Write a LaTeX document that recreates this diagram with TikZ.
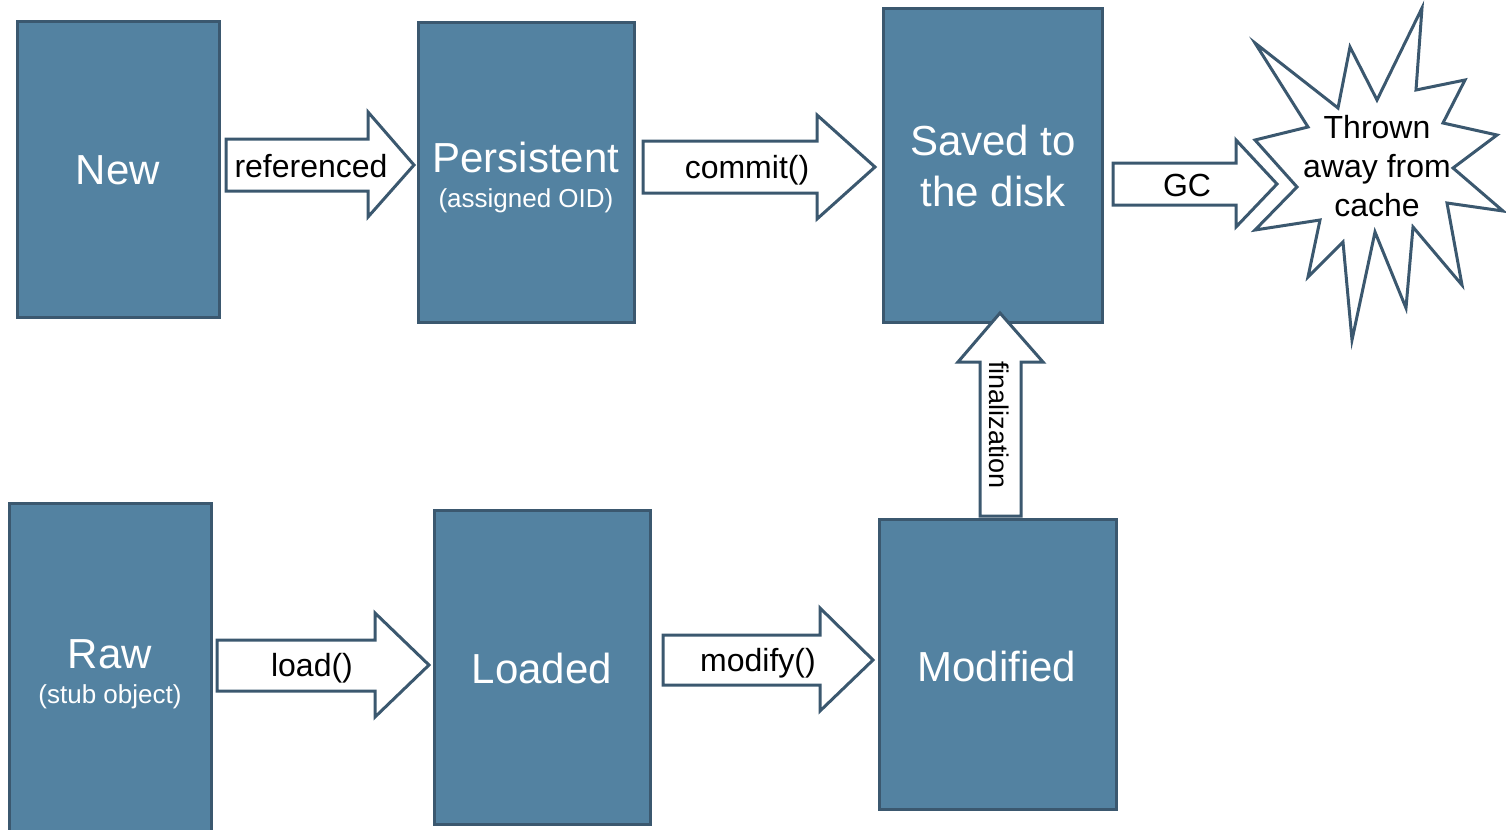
\documentclass[tikz,border=0pt]{standalone}
\usepackage{fontspec}
\setmainfont{Liberation Sans}
\definecolor{boxfill}{RGB}{83,130,161}
\definecolor{boxline}{RGB}{59,88,111}
\begin{document}
\begin{tikzpicture}[x=0.5pt,y=-0.5pt,
  box/.style={draw=boxline,fill=boxfill,line width=1.5pt,inner sep=0pt,rectangle},
  bigtxt/.style={text=white,font=\fontsize{21}{25.5}\selectfont,align=center,inner sep=0pt},
  smalltxt/.style={text=white,font=\fontsize{13}{15}\selectfont,inner sep=0pt},
  arrowshape/.style={draw=boxline,fill=white,line width=1.5pt,line join=miter},
  lbl/.style={text=black,font=\fontsize{16}{19.5}\selectfont,inner sep=0pt,align=center}]
\useasboundingbox (0,0) rectangle (1506,830);
\clip (0,0) rectangle (1506,830);
% boxes
\node[box,minimum width=101pt,minimum height=148pt] (new) at (118,169) {};
\node[box,minimum width=108pt,minimum height=150pt] (persistent) at (526,172) {};
\node[box,minimum width=109.5pt,minimum height=157pt] (saved) at (992.5,165) {};
\node[box,minimum width=101pt,minimum height=166.5pt] (raw) at (110,669.5) {};
\node[box,minimum width=108pt,minimum height=157pt] (loaded) at (542,667) {};
\node[box,minimum width=118.5pt,minimum height=145pt] (modified) at (997.5,664) {};
% box texts
\node[bigtxt] (newtxt) at (118,170) {New};
\node[bigtxt] (perstxt) at (526,157) {Persistent};
\node[smalltxt] (oidtxt) at (526,201) {(assigned OID)};
\node[bigtxt] (savedtxt) at (993,166) {Saved to\\the disk};
\node[bigtxt] (rawtxt) at (110,654) {Raw};
\node[smalltxt] (stubtxt) at (110,697) {(stub object)};
\node[bigtxt] (loadedtxt) at (542,668) {Loaded};
\node[bigtxt] (modtxt) at (997,666) {Modified};
% block arrows
\draw[arrowshape] (226,139) -- (368,139) -- (368,112) -- (414,165) -- (368,217) -- (368,191) -- (226,191) -- cycle;
\node[lbl] (reflbl) at (311,166) {referenced};
\draw[arrowshape] (643,141) -- (817,141) -- (817,115) -- (875,167) -- (817,219) -- (817,193) -- (643,193) -- cycle;
\node[lbl] (commitlbl) at (747,170) {commit()};
\draw[arrowshape] (1113,163) -- (1236,163) -- (1236,140) -- (1277,184) -- (1236,227) -- (1236,205) -- (1113,205) -- cycle;
\node[lbl] (gclbl) at (1187,185) {GC};
\draw[arrowshape] (217,640) -- (375,640) -- (375,613) -- (429,665) -- (375,717) -- (375,691) -- (217,691) -- cycle;
\node[lbl] (loadlbl) at (312,668) {load()};
\draw[arrowshape] (663,635) -- (820,635) -- (820,608) -- (873,660) -- (820,711) -- (820,685) -- (663,685) -- cycle;
\node[lbl] (modifylbl) at (758,663) {modify()};
\draw[arrowshape] (980,516) -- (980,362) -- (958,362) -- (1000,313) -- (1043,362) -- (1021,362) -- (1021,516) -- cycle;
\node[lbl,font=\fontsize{13.5}{16}\selectfont,rotate=-90] (finlbl) at (999,425) {finalization};
% starburst
\draw[arrowshape] (1255,43) -- (1338,108) -- (1350,47) -- (1377,100) -- (1422,8) -- (1416,90)
  -- (1465,80) -- (1443,123) -- (1497,135) -- (1453,168) -- (1503,211) -- (1447,203)
  -- (1462,285) -- (1413,227) -- (1406,308) -- (1375,232) -- (1352,340) -- (1343,242)
  -- (1308,277) -- (1320,220) -- (1255,230) -- (1297,187) -- (1255,140) -- (1308,127) -- cycle;
\node[lbl] (throwntxt) at (1377,166) {Thrown\\away from\\cache};
\end{tikzpicture}
\end{document}
